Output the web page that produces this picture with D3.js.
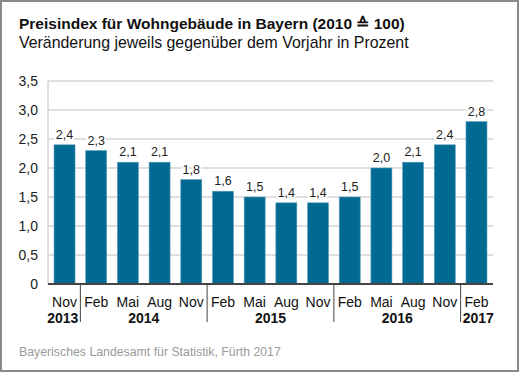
<!DOCTYPE html>
<html><head><meta charset="utf-8">
<script src="https://cdn.jsdelivr.net/npm/d3@7"></script>
<style>body{margin:0;background:#fff}svg{display:block;font-family:"Liberation Sans",Arial,sans-serif}</style>
</head><body>
<script>
const months = ["Nov","Feb","Mai","Aug","Nov","Feb","Mai","Aug","Nov","Feb","Mai","Aug","Nov","Feb"];
const values = [2.4,2.3,2.1,2.1,1.8,1.6,1.5,1.4,1.4,1.5,2.0,2.1,2.4,2.8];
const years = [{label:"2013",from:0,to:0},{label:"2014",from:1,to:4},{label:"2015",from:5,to:8},{label:"2016",from:9,to:12},{label:"2017",from:13,to:13}];
const yTicks = [0,0.5,1,1.5,2,2.5,3,3.5];
const title = "Preisindex für Wohngebäude in Bayern (2010 \u2259 100)";
const subtitle = "Veränderung jeweils gegenüber dem Vorjahr in Prozent";
const source = "Bayerisches Landesamt für Statistik, Fürth 2017";

const W=519,H=372;
const fmt = v => d3.format(".1f")(v).replace(".",",");
const svg = d3.select("body").append("svg").attr("width",W).attr("height",H);
svg.append("rect").attr("x",1).attr("y",1).attr("width",W-2).attr("height",H-2).attr("fill","#fff").attr("stroke","#8a8a8a").attr("stroke-width",2);

svg.append("text").attr("x",19).attr("y",29).attr("font-size",15.5).attr("font-weight","bold").attr("fill","#111").text(title);
svg.append("text").attr("x",19).attr("y",48).attr("font-size",15.9).attr("fill","#111").text(subtitle);

const x = d3.scaleBand().domain(d3.range(months.length)).range([48,493]).paddingInner(0.337).paddingOuter(0.19);
const y = d3.scaleLinear().domain([0,3.5]).range([284,81]);

// grid
svg.append("g").selectAll("line").data(yTicks.filter(t=>t>0)).join("line")
  .attr("x1",48).attr("x2",493).attr("y1",d=>y(d)).attr("y2",d=>y(d))
  .attr("stroke","#d4d4d4").attr("stroke-width",1.5);
svg.append("line").attr("x1",48).attr("x2",48).attr("y1",y(3.5)).attr("y2",y(0)).attr("stroke","#d4d4d4").attr("stroke-width",1.5);

// y labels
svg.append("g").selectAll("text").data(yTicks).join("text")
  .attr("x",38).attr("y",d=>y(d)+5).attr("text-anchor","end").attr("font-size",14).attr("fill","#222")
  .text(d=> d===0 ? "0" : fmt(d));

// bars
svg.append("g").selectAll("rect").data(values).join("rect")
  .attr("x",(d,i)=>x(i)).attr("width",x.bandwidth()).attr("y",d=>y(d)).attr("height",d=>y(0)-y(d))
  .attr("fill","#006a93").attr("stroke","#5f9fba").attr("stroke-width",0.6);

// value labels with halo
const vl = svg.append("g").selectAll("g").data(values).join("g");
vl.append("text").attr("x",(d,i)=>x(i)+x.bandwidth()/2).attr("y",d=>y(d)-6).attr("text-anchor","middle").attr("font-size",12.5)
  .attr("stroke","#fff").attr("stroke-width",4).attr("stroke-linejoin","round").attr("fill","#fff").text(d=>fmt(d));
vl.append("text").attr("x",(d,i)=>x(i)+x.bandwidth()/2).attr("y",d=>y(d)-6).attr("text-anchor","middle").attr("font-size",12.5)
  .attr("fill","#222").text(d=>fmt(d));

// zero line
svg.append("line").attr("x1",48).attr("x2",493).attr("y1",y(0)).attr("y2",y(0)).attr("stroke","#444").attr("stroke-width",2);

// month labels
svg.append("g").selectAll("text").data(months).join("text")
  .attr("x",(d,i)=>x(i)+x.bandwidth()/2).attr("y",307).attr("text-anchor","middle").attr("font-size",14).attr("fill","#111").text(d=>d);

// separators
const step = x.step();
const seps = years.slice(1).map(g=>x(g.from) - (step - x.bandwidth())/2);
svg.append("g").selectAll("line").data(seps).join("line")
  .attr("x1",d=>d).attr("x2",d=>d).attr("y1",y(0)).attr("y2",322).attr("stroke","#444").attr("stroke-width",1);

// year labels
svg.append("g").selectAll("text").data(years).join("text")
  .attr("font-size",14).attr("font-weight","bold").attr("fill","#111").attr("y",322.5)
  .each(function(g,i){
    const s = d3.select(this);
    if(i===0){ s.attr("x",seps[0]-2).attr("text-anchor","end"); }
    else if(i===years.length-1){ s.attr("x",seps[seps.length-1]+2).attr("text-anchor","start"); }
    else { s.attr("x",(x(g.from)+x(g.to)+x.bandwidth())/2).attr("text-anchor","middle"); }
  }).text(g=>g.label);

svg.append("text").attr("x",19).attr("y",356).attr("font-size",12.3).attr("fill","#9a9a9a").text(source);
</script>
</body></html>
